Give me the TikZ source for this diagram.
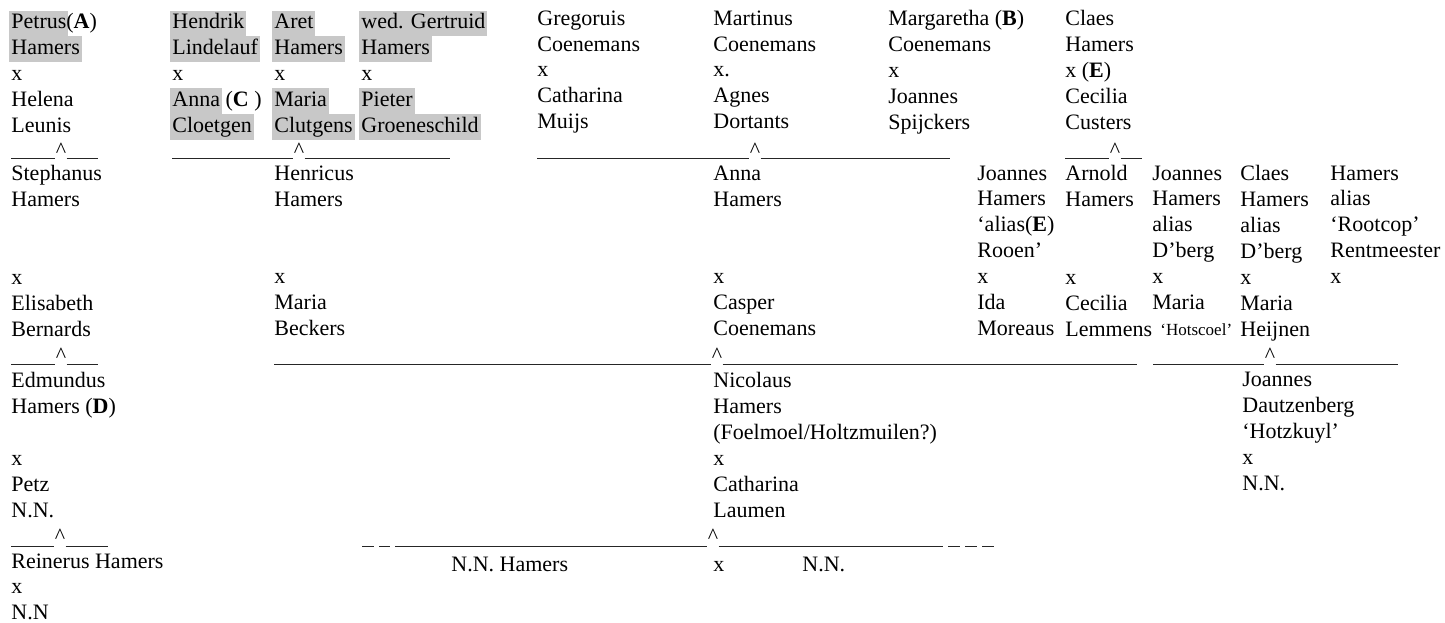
\documentclass[tikz,border=0pt]{standalone}
\usepackage{fontspec}
\setmainfont{Liberation Serif}
\usepackage{xcolor}
\usetikzlibrary{calc}
\definecolor{hlgrey}{RGB}{200,200,200}
\newcommand{\famfont}{\fontsize{11}{12.93}\selectfont}
\newcommand{\hlt}[1]{{\fboxsep=0pt\kern-1pt\colorbox{hlgrey}{\strut\kern1pt#1\kern1pt}\kern-1pt}}
\AtBeginDocument{\famfont}

\begin{document}
\begin{tikzpicture}[x=0.5pt,y=-0.5pt]
		\tikzset{person/.style = {anchor=north west, inner sep=0pt, align=left,
			font=\famfont, execute at begin node={\lineskiplimit=-20pt\lineskip=0pt\strut}}}
		\tikzset{caret/.style = {anchor=base, inner sep=0pt, font=\famfont}}
		\tikzset{descent/.style = {line width=0.5pt, black!85}}
		\tikzset{unsure/.style = {descent, dash pattern=on 6pt off 2.5pt}}

		\useasboundingbox (0,0) rectangle (1445,622);

		% first generation
		\node[person] (petrus) at (11,10.2) {\hlt{Petrus}(\textbf{A})\\\hlt{Hamers}\\x\\Helena\\Leunis};
		\node[person] (hendrik) at (172,10.2) {\hlt{Hendrik}\\\hlt{Lindelauf}\\x\\\hlt{Anna} (\textbf{C} )\\\hlt{Cloetgen}};
		\node[person] (aret) at (274,10.2) {\hlt{Aret}\\\hlt{Hamers}\\x\\\hlt{Maria}\\\hlt{Clutgens}};
		\node[person] (gertruid) at (361,10.2) {\hlt{wed. Gertruid}\\\hlt{Hamers}\\x\\\hlt{Pieter}\\\hlt{Groeneschild}};
		\node[person] (gregoruis) at (537,10.2) {Gregoruis\\Coenemans\\x\\Catharina\\Muijs};
		\node[person] (martinus) at (713,10.2) {Martinus\\Coenemans\\x.\\Agnes\\Dortants};
		\node[person] (margaretha) at (888,10.2) {Margaretha (\textbf{B})\\Coenemans\\x\\Joannes\\Spijckers};
		\node[person] (claes) at (1065,10.2) {Claes\\Hamers\\x (\textbf{E})\\Cecilia\\Custers};

		% second generation
		\node[person] (stephanus) at (11,165.3) {Stephanus\\Hamers\\\mbox{}\\\mbox{}\\x\\Elisabeth\\Bernards};
		\node[person] (henricus) at (274,165.3) {Henricus\\Hamers\\\mbox{}\\\mbox{}\\x\\Maria\\Beckers};
		\node[person] (anna) at (713,165.3) {Anna\\Hamers\\\mbox{}\\\mbox{}\\x\\Casper\\Coenemans};
		\node[person] (rooen) at (977,165.3) {Joannes\\Hamers\\‘alias(\textbf{E})\\Rooen’\\x\\Ida\\Moreaus};
		\node[person] (arnold) at (1065,165.3) {Arnold\\Hamers\\\mbox{}\\\mbox{}\\x\\Cecilia\\Lemmens};
		\node[person] (joannes) at (1152,165.3) {Joannes\\Hamers\\alias\\D’berg\\x\\Maria\\\hspace*{4pt}{\fontsize{8.5}{12.93}\selectfont ‘Hotscoel’}};
		\node[person] (claesd) at (1240,165.3) {Claes\\Hamers\\alias\\D’berg\\x\\Maria\\Heijnen};
		\node[person] (rootcop) at (1330,165.3) {Hamers\\alias\\‘Rootcop’\\Rentmeester\\x};

		% third generation
		\node[person] (edmundus) at (11,372.1) {Edmundus\\Hamers (\textbf{D})\\\mbox{}\\x\\Petz\\N.N.};
		\node[person] (nicolaus) at (713,372.1) {Nicolaus\\Hamers\\(Foelmoel/Holtzmuilen?)\\x\\Catharina\\Laumen};
		\node[person] (hotzkuyl) at (1242,372.1) {Joannes\\Dautzenberg\\‘Hotzkuyl’\\x\\N.N.};

		% fourth generation
		\node[person] (reinerus) at (11,553.1) {Reinerus Hamers\\x\\N.N};
		\node[person] (nnhamers) at (451,553.1) {N.N. Hamers};
		\node[person] (nnx) at (713,553.1) {x};
		\node[person] (nn) at (802,553.1) {N.N.};

		% descent marks and lines
		\foreach \m/\x/\y in {c1/61/157, c2/299/157, c3/755/157, c4/1115/157,
				c5/61/362, c6/717/362, c7/1270/362, c8/60/543, c9/713/543}
			\node[caret] (\m) at (\x,\y) {\textasciicircum};

		\foreach \m/\a/\b/\y in {c1/11/98/158, c2/172/450/158, c3/537/950/158, c4/1065/1142/158,
				c5/11/98/364, c6/274/1137/364, c7/1153/1398/364, c8/11/108/546, c9/395/943/546} {
			\coordinate (\m-w) at (\a,\y);
			\coordinate (\m-e) at (\b,\y);
			\draw[descent] (\m-w) -- (\m-w -| \m.west);
			\draw[descent] (\m.east |- \m-e) -- (\m-e);
		}

		\coordinate (u1) at (362,546);
		\coordinate (u2) at (390,546);
		\coordinate (u3) at (948,546);
		\coordinate (u4) at (995,546);
		\draw[unsure] (u1) -- (u2);
		\draw[unsure] (u3) -- (u4);

	\end{tikzpicture}
\end{document}
